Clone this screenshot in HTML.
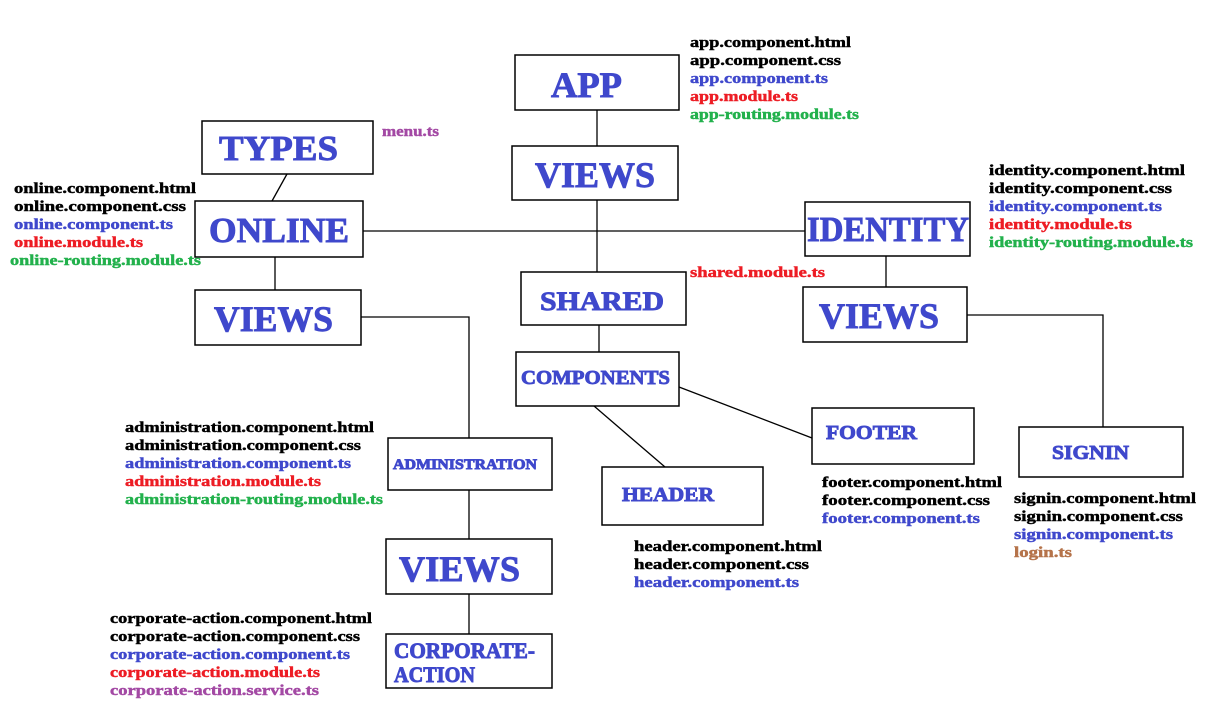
<!DOCTYPE html>
<html><head><meta charset="utf-8"><style>
html,body{margin:0;padding:0;background:#fff;width:1221px;height:726px;overflow:hidden}
svg{display:block}
text{font-family:"Liberation Serif",serif;font-weight:bold}
.s text{font-size:15px;stroke-width:0.45px}
.k{fill:#000;stroke:#000}.b{fill:#3f48cc;stroke:#3f48cc}.r{fill:#ed1c24;stroke:#ed1c24}.g{fill:#22b14c;stroke:#22b14c}.p{fill:#a349a4;stroke:#a349a4}.o{fill:#b5734a;stroke:#b5734a}
.n{fill:#3f48cc;stroke:#3f48cc;stroke-width:0.9px}
rect{fill:#fff;stroke:#000;stroke-width:1.5}
line,polyline{stroke:#000;stroke-width:1.3;fill:none}
</style></head><body>
<svg width="1221" height="726" viewBox="0 0 1221 726" xmlns="http://www.w3.org/2000/svg">
<line x1="597" y1="110" x2="597" y2="146"/>
<line x1="597" y1="200" x2="597" y2="272"/>
<line x1="363" y1="231" x2="805" y2="231"/>
<line x1="287" y1="174" x2="272" y2="201"/>
<line x1="275" y1="257" x2="275" y2="290"/>
<polyline points="361,317 469,317 469,438"/>
<line x1="469" y1="490" x2="469" y2="539"/>
<line x1="469" y1="594" x2="469" y2="634"/>
<line x1="599" y1="325" x2="599" y2="352"/>
<line x1="679" y1="387" x2="812" y2="438"/>
<line x1="594" y1="406" x2="665" y2="467"/>
<line x1="886" y1="256" x2="886" y2="287"/>
<polyline points="967,315 1103,315 1103,427"/>
<rect x="515" y="55" width="164" height="55"/>
<text class="n" x="551" y="97" font-size="36" textLength="71" lengthAdjust="spacingAndGlyphs">APP</text>
<rect x="512" y="146" width="166" height="54"/>
<text class="n" x="535" y="187" font-size="36" textLength="120" lengthAdjust="spacingAndGlyphs">VIEWS</text>
<rect x="202" y="121" width="171" height="53"/>
<text class="n" x="219" y="160" font-size="35" textLength="119" lengthAdjust="spacingAndGlyphs">TYPES</text>
<rect x="195" y="201" width="168" height="56"/>
<text class="n" x="209" y="242" font-size="35" textLength="140" lengthAdjust="spacingAndGlyphs">ONLINE</text>
<rect x="805" y="202" width="165" height="54"/>
<text class="n" x="807" y="241" font-size="35" textLength="162" lengthAdjust="spacingAndGlyphs">IDENTITY</text>
<rect x="195" y="290" width="166" height="55"/>
<text class="n" x="214" y="331" font-size="36" textLength="119" lengthAdjust="spacingAndGlyphs">VIEWS</text>
<rect x="521" y="272" width="165" height="53"/>
<text class="n" x="540" y="310" font-size="26" textLength="124" lengthAdjust="spacingAndGlyphs">SHARED</text>
<rect x="803" y="287" width="164" height="55"/>
<text class="n" x="819" y="328" font-size="36" textLength="120" lengthAdjust="spacingAndGlyphs">VIEWS</text>
<rect x="516" y="352" width="163" height="54"/>
<text class="n" x="521" y="384" font-size="20" textLength="149" lengthAdjust="spacingAndGlyphs">COMPONENTS</text>
<rect x="812" y="408" width="162" height="56"/>
<text class="n" x="826" y="439" font-size="20" textLength="91" lengthAdjust="spacingAndGlyphs">FOOTER</text>
<rect x="1019" y="427" width="164" height="50"/>
<text class="n" x="1052" y="459" font-size="20" textLength="77" lengthAdjust="spacingAndGlyphs">SIGNIN</text>
<rect x="388" y="438" width="164" height="52"/>
<text class="n" x="393" y="469" font-size="15" textLength="144" lengthAdjust="spacingAndGlyphs">ADMINISTRATION</text>
<rect x="602" y="467" width="161" height="58"/>
<text class="n" x="622" y="501" font-size="20" textLength="92" lengthAdjust="spacingAndGlyphs">HEADER</text>
<rect x="386" y="539" width="166" height="55"/>
<text class="n" x="399" y="581" font-size="36" textLength="121" lengthAdjust="spacingAndGlyphs">VIEWS</text>
<rect x="386" y="634" width="166" height="54"/>
<text class="n" x="394" y="658" font-size="22" textLength="141" lengthAdjust="spacingAndGlyphs">CORPORATE-</text>
<text class="n" x="394" y="682" font-size="22" textLength="81" lengthAdjust="spacingAndGlyphs">ACTION</text>
<g class="s">
<text class="k" x="690" y="47" textLength="161" lengthAdjust="spacingAndGlyphs">app.component.html</text>
<text class="k" x="690" y="65" textLength="151" lengthAdjust="spacingAndGlyphs">app.component.css</text>
<text class="b" x="690" y="83" textLength="138" lengthAdjust="spacingAndGlyphs">app.component.ts</text>
<text class="r" x="690" y="101" textLength="108" lengthAdjust="spacingAndGlyphs">app.module.ts</text>
<text class="g" x="690" y="119" textLength="169" lengthAdjust="spacingAndGlyphs">app-routing.module.ts</text>
<text class="p" x="382" y="136" textLength="57" lengthAdjust="spacingAndGlyphs">menu.ts</text>
<text class="k" x="14" y="193" textLength="182" lengthAdjust="spacingAndGlyphs">online.component.html</text>
<text class="k" x="14" y="211" textLength="172" lengthAdjust="spacingAndGlyphs">online.component.css</text>
<text class="b" x="14" y="229" textLength="159" lengthAdjust="spacingAndGlyphs">online.component.ts</text>
<text class="r" x="14" y="247" textLength="129" lengthAdjust="spacingAndGlyphs">online.module.ts</text>
<text class="g" x="10" y="265" textLength="191" lengthAdjust="spacingAndGlyphs">online-routing.module.ts</text>
<text class="k" x="989" y="175" textLength="196" lengthAdjust="spacingAndGlyphs">identity.component.html</text>
<text class="k" x="989" y="193" textLength="183" lengthAdjust="spacingAndGlyphs">identity.component.css</text>
<text class="b" x="989" y="211" textLength="173" lengthAdjust="spacingAndGlyphs">identity.component.ts</text>
<text class="r" x="989" y="229" textLength="143" lengthAdjust="spacingAndGlyphs">identity.module.ts</text>
<text class="g" x="989" y="247" textLength="204" lengthAdjust="spacingAndGlyphs">identity-routing.module.ts</text>
<text class="r" x="690" y="277" textLength="135" lengthAdjust="spacingAndGlyphs">shared.module.ts</text>
<text class="k" x="125" y="432" textLength="249" lengthAdjust="spacingAndGlyphs">administration.component.html</text>
<text class="k" x="125" y="450" textLength="236" lengthAdjust="spacingAndGlyphs">administration.component.css</text>
<text class="b" x="125" y="468" textLength="226" lengthAdjust="spacingAndGlyphs">administration.component.ts</text>
<text class="r" x="125" y="486" textLength="196" lengthAdjust="spacingAndGlyphs">administration.module.ts</text>
<text class="g" x="125" y="504" textLength="258" lengthAdjust="spacingAndGlyphs">administration-routing.module.ts</text>
<text class="k" x="822" y="487" textLength="180" lengthAdjust="spacingAndGlyphs">footer.component.html</text>
<text class="k" x="822" y="505" textLength="168" lengthAdjust="spacingAndGlyphs">footer.component.css</text>
<text class="b" x="822" y="523" textLength="158" lengthAdjust="spacingAndGlyphs">footer.component.ts</text>
<text class="k" x="1014" y="503" textLength="182" lengthAdjust="spacingAndGlyphs">signin.component.html</text>
<text class="k" x="1014" y="521" textLength="169" lengthAdjust="spacingAndGlyphs">signin.component.css</text>
<text class="b" x="1014" y="539" textLength="159" lengthAdjust="spacingAndGlyphs">signin.component.ts</text>
<text class="o" x="1014" y="557" textLength="58" lengthAdjust="spacingAndGlyphs">login.ts</text>
<text class="k" x="634" y="551" textLength="188" lengthAdjust="spacingAndGlyphs">header.component.html</text>
<text class="k" x="634" y="569" textLength="175" lengthAdjust="spacingAndGlyphs">header.component.css</text>
<text class="b" x="634" y="587" textLength="165" lengthAdjust="spacingAndGlyphs">header.component.ts</text>
<text class="k" x="110" y="623" textLength="262" lengthAdjust="spacingAndGlyphs">corporate-action.component.html</text>
<text class="k" x="110" y="641" textLength="250" lengthAdjust="spacingAndGlyphs">corporate-action.component.css</text>
<text class="b" x="110" y="659" textLength="240" lengthAdjust="spacingAndGlyphs">corporate-action.component.ts</text>
<text class="r" x="110" y="677" textLength="210" lengthAdjust="spacingAndGlyphs">corporate-action.module.ts</text>
<text class="p" x="110" y="695" textLength="209" lengthAdjust="spacingAndGlyphs">corporate-action.service.ts</text>
</g>
</svg>
</body></html>
